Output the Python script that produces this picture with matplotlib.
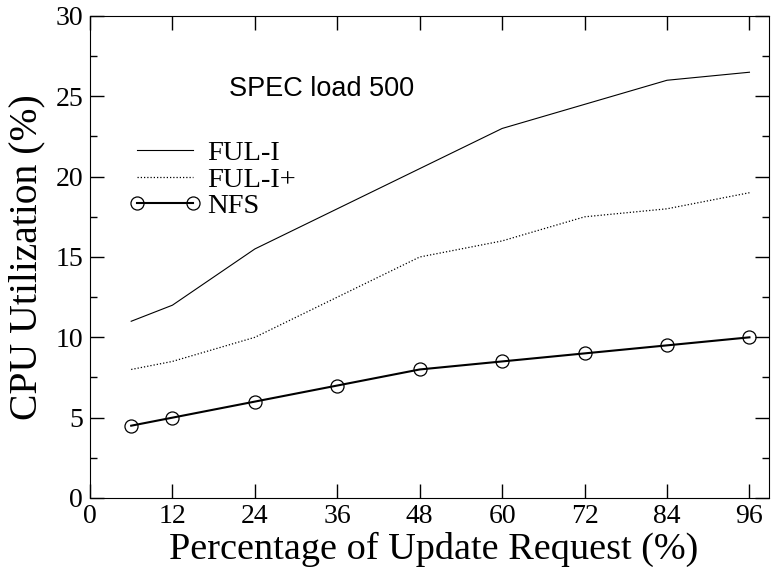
import numpy as np
import matplotlib.pyplot as plt
from matplotlib.ticker import MultipleLocator
from matplotlib.legend_handler import HandlerLine2D

# data
update_pct = [6, 12, 24, 36, 48, 60, 72, 84, 96]
ful_i = [11, 12, 15.5, 18, 20.5, 23, 24.5, 26, 26.5]
ful_i_plus = [8, 8.5, 10, 12.5, 15, 16, 17.5, 18, 19]
nfs = [4.5, 5, 6, 7, 8, 8.5, 9, 9.5, 10]

plt.rcParams['font.family'] = ['Liberation Serif', 'DejaVu Serif']

fig = plt.figure(figsize=(7.71, 5.67), dpi=100)
ax = fig.add_axes([0.1167, 0.1217, 0.8803, 0.8501])

ax.plot(update_pct, ful_i, color='black', lw=0.8, label='FUL-I')
ax.plot(update_pct, ful_i_plus, color='black', lw=0.9, ls=(0, (1, 1.6)), label='FUL-I+')
ax.plot(update_pct, nfs, color='black', lw=1.5, marker='o', ms=9.4,
        mfc='none', mec='black', mew=0.9, label='NFS')

ax.set_xlim(0, 98.8)
ax.set_ylim(0, 30)
ax.set_xticks(np.arange(0, 97, 12))
ax.yaxis.set_major_locator(MultipleLocator(5))
ax.yaxis.set_minor_locator(MultipleLocator(2.5))
ax.tick_params(which='both', direction='in', top=True, right=True, labelsize=20)
ax.tick_params(axis='y', pad=5)
ax.tick_params(axis='x', pad=4)
ax.tick_params(which='major', length=10, width=1)
ax.tick_params(which='minor', length=5, width=1)
ax.tick_params(axis='x', which='minor', bottom=False, top=False)

ax.set_xlabel('Percentage of Update Request (%)', fontsize=27.5)
ax.set_ylabel('CPU Utilization (%)', fontsize=28.5)
ax.xaxis.set_label_coords(0.507, -0.071)
ax.yaxis.set_label_coords(-0.065, 0.5)

ax.text(0.2047, 0.834, 'SPEC load 500', transform=ax.transAxes, fontsize=19.5,
        family='Liberation Sans', va='baseline')

# legend without frame, markers at both ends of the handle
ax.legend(loc='upper left', bbox_to_anchor=(0.0692, 0.7417), frameon=False,
          fontsize=20.5, handlelength=1.96, handletextpad=0.49,
          labelspacing=0.02, borderaxespad=0, borderpad=0, numpoints=2,
          handler_map={plt.Line2D: HandlerLine2D(marker_pad=0)})

fig.savefig('out.png', dpi=100)
